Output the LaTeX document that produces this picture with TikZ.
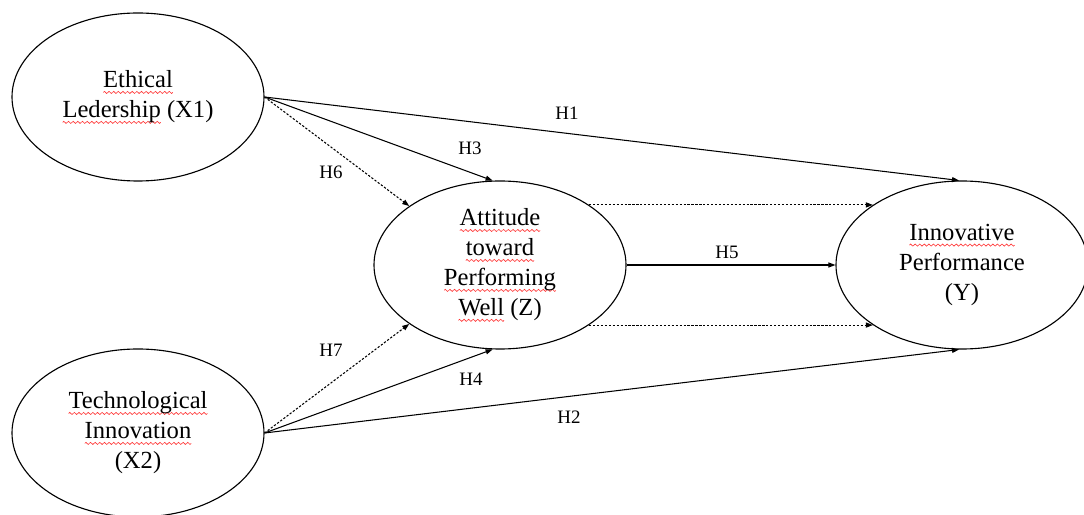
\documentclass[tikz,border=0pt]{standalone}
\usepackage{fontspec}
\setmainfont{Liberation Serif}
\usepackage{xcolor}
\usepackage{tikz}
\usetikzlibrary{arrows.meta, shapes.geometric}

% red spell-check wave under a word
\newsavebox{\wavebox}
\newsavebox{\spellbox}
\newcommand{\spellwave}[1]{\sbox{\spellbox}{#1}\rlap{\raisebox{-3.2pt}[0pt][0pt]{\hbox to \wd\spellbox{\xleaders\copy\wavebox\hfill}}}\usebox{\spellbox}}

\begin{document}
\sbox{\wavebox}{\begin{pgfpicture}
    \pgfsetlinewidth{0.45pt}
    \pgfsetstrokecolor{red!80}
    \pgfpathmoveto{\pgfpoint{0pt}{0pt}}
    \pgfpathsine{\pgfpoint{0.8pt}{0.75pt}}
    \pgfpathcosine{\pgfpoint{0.8pt}{-0.75pt}}
    \pgfpathsine{\pgfpoint{0.8pt}{-0.75pt}}
    \pgfpathcosine{\pgfpoint{0.8pt}{0.75pt}}
    \pgfusepath{stroke}
    \pgfresetboundingbox
    \pgfpathrectangle{\pgfpoint{0pt}{0pt}}{\pgfpoint{3.2pt}{0pt}}
    \pgfusepath{use as bounding box}
  \end{pgfpicture}}
\begin{tikzpicture}[
    latent/.style={ellipse, draw, line width=0.8pt, minimum width=6.3cm, minimum height=4.2cm,
      inner sep=0pt, align=center, font=\fontsize{17.5}{21.3}\selectfont},
    link/.style={-{Triangle[length=5pt, width=3.6pt]}, line width=0.75pt},
    dotlink/.style={link, dash pattern=on 1.6pt off 1.2pt},
    hyp/.style={inner sep=0pt, font=\fontsize{13.5}{16}\selectfont}]
      \useasboundingbox (0,0) rectangle (27.1,12.875);

      \node[latent] (ethical) at (3.45,10.45) {\spellwave{Ethical}\\ \spellwave{Ledership} (X1)};
      \node[latent] (techno) at (3.45,2.05) {\spellwave{Technological}\\ \spellwave{Innovation}\\ (X2)};
      \node[latent] (attitude) at (12.5,6.25) {\spellwave{Attitude}\\ \spellwave{toward}\\ \spellwave{Performing}\\ \spellwave{Well} (Z)};
      \node[latent] (innov) at (24.05,6.25) {\spellwave{Innovative}\\ Performance\\ (Y)};

      \draw[link] (ethical.east) -- (innov.92);
      \draw[link] (ethical.east) -- (attitude.95);
      \draw[dotlink] (ethical.east) -- (attitude.147);
      \draw[link] (techno.east) -- (innov.268);
      \draw[link] (techno.east) -- (attitude.265);
      \draw[dotlink] (techno.east) -- (attitude.213);
      \draw[link] (attitude.east) -- (innov.west);
      \draw[dotlink] (attitude.34) -- (innov.146);
      \draw[dotlink] (attitude.326) -- (innov.214);

      \node[hyp] (h1) at (14.175,10.05) {H1};
      \node[hyp] (h2) at (14.225,2.45) {H2};
      \node[hyp] (h3) at (11.75,9.175) {H3};
      \node[hyp] (h4) at (11.775,3.4) {H4};
      \node[hyp] (h5) at (18.175,6.575) {H5};
      \node[hyp] (h6) at (8.275,8.575) {H6};
      \node[hyp] (h7) at (8.275,4.125) {H7};
    \end{tikzpicture}
\end{document}
